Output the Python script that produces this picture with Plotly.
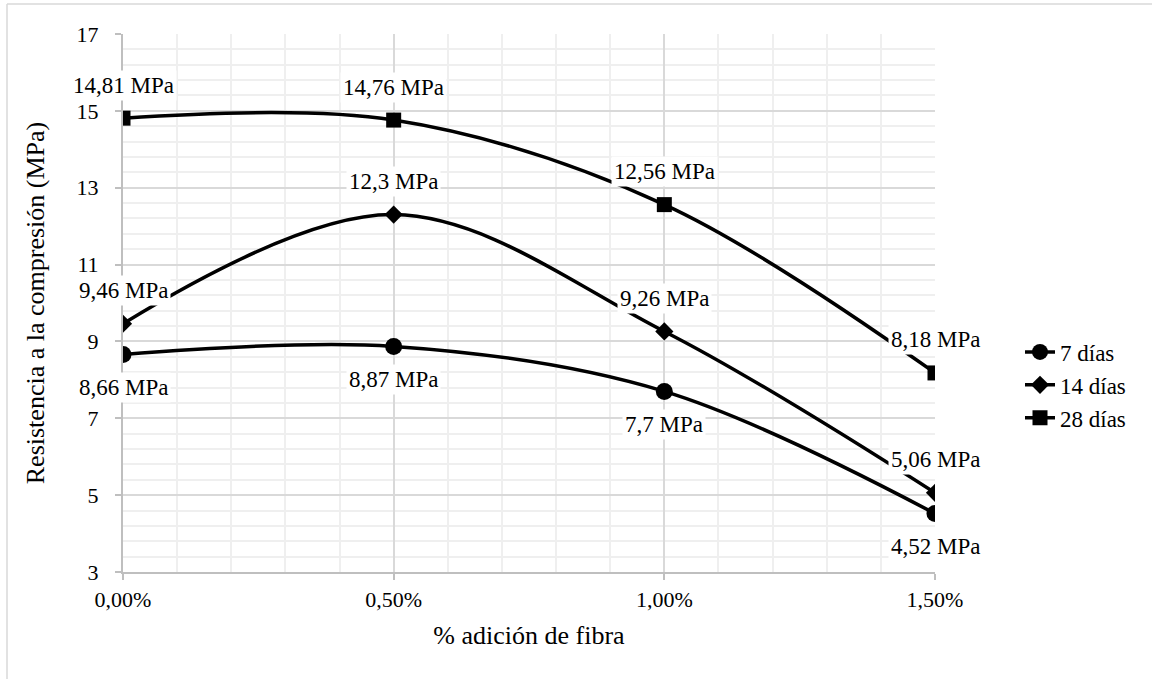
import plotly.graph_objects as go

fibra = [0.0, 0.005, 0.010, 0.015]
dias7 = [8.66, 8.87, 7.70, 4.52]
dias14 = [9.46, 12.30, 9.26, 5.06]
dias28 = [14.81, 14.76, 12.56, 8.18]
labels7 = ["8,66 MPa", "8,87 MPa", "7,7 MPa", "4,52 MPa"]
labels14 = ["9,46 MPa", "12,3 MPa", "9,26 MPa", "5,06 MPa"]
labels28 = ["14,81 MPa", "14,76 MPa", "12,56 MPa", "8,18 MPa"]

FONT = "Times New Roman"
W, H = 1152, 679
L, R, T, B = 123, 217, 34, 107
pw, ph = W - L - R, H - T - B

fig = go.Figure()
series = [
    ("7 días", dias7, "circle", 17, labels7, -1),
    ("14 días", dias14, "diamond", 14, labels14, 1),
    ("28 días", dias28, "square", 15, labels28, 1),
]
for name, ys, sym, sz, labs, side in series:
    fig.add_trace(go.Scatter(
        x=fibra, y=ys, name=name, mode="lines+markers",
        line=dict(color="black", width=3.5, shape="spline", smoothing=1),
        marker=dict(symbol=sym, size=sz, color="black"),
    ))
    for xv, yv, lab in zip(fibra, ys, labs):
        fig.add_annotation(
            x=xv, y=yv, text=lab, showarrow=False, yshift=33 * side,
            font=dict(family=FONT, size=23),
            bgcolor="white", borderpad=2, yanchor="middle", xanchor="center",
        )

# outer chart frame (top and left edges visible)
fig.add_shape(type="line", xref="paper", yref="paper",
              x0=(7 - L) / pw, x1=(W - L) / pw, y0=(H - B - 4) / ph, y1=(H - B - 4) / ph,
              line=dict(color="#d9d9d9", width=1.5))
fig.add_shape(type="line", xref="paper", yref="paper",
              x0=(7 - L) / pw, x1=(7 - L) / pw, y0=(H - B - 4) / ph, y1=(H - B - H) / ph,
              line=dict(color="#d9d9d9", width=1.5))

fig.update_layout(
    width=W, height=H, margin=dict(l=L, r=R, t=T, b=B),
    plot_bgcolor="white", paper_bgcolor="white",
    separators=", ",
    font=dict(family=FONT, color="#000000"),
    legend=dict(x=(1020 - L) / pw, y=(H - B - 385) / ph, xanchor="left", yanchor="middle",
                font=dict(family=FONT, size=23), tracegroupgap=0, itemsizing="trace",
                bgcolor="rgba(0,0,0,0)"),
    xaxis=dict(
        range=[0, 0.015], tickvals=[0, 0.005, 0.010, 0.015], tickformat=".2%",
        tickfont=dict(family=FONT, size=22),
        showgrid=True, gridcolor="#d9d9d9", gridwidth=1.5,
        minor=dict(dtick=0.001, tick0=0, showgrid=True, gridcolor="#efefef", gridwidth=1.5),
        showline=True, linecolor="#bfbfbf", linewidth=2,
        ticks="outside", ticklen=6, tickcolor="#bfbfbf", tickwidth=2,
        ticklabelstandoff=1,
        title=dict(text="% adición de fibra", font=dict(family=FONT, size=26), standoff=14),
        zeroline=False,
    ),
    yaxis=dict(
        range=[3, 17], tick0=3, dtick=2,
        tickfont=dict(family=FONT, size=22),
        showgrid=True, gridcolor="#d9d9d9", gridwidth=1.5,
        minor=dict(dtick=0.4, tick0=3, showgrid=True, gridcolor="#efefef", gridwidth=1.5),
        showline=True, linecolor="#bfbfbf", linewidth=2,
        ticks="outside", ticklen=6, tickcolor="#bfbfbf", tickwidth=2,
        ticklabelstandoff=12,
        title=dict(text="Resistencia a la compresión (MPa)", font=dict(family=FONT, size=26), standoff=24),
        zeroline=False,
    ),
)

fig.write_html("out.html")
